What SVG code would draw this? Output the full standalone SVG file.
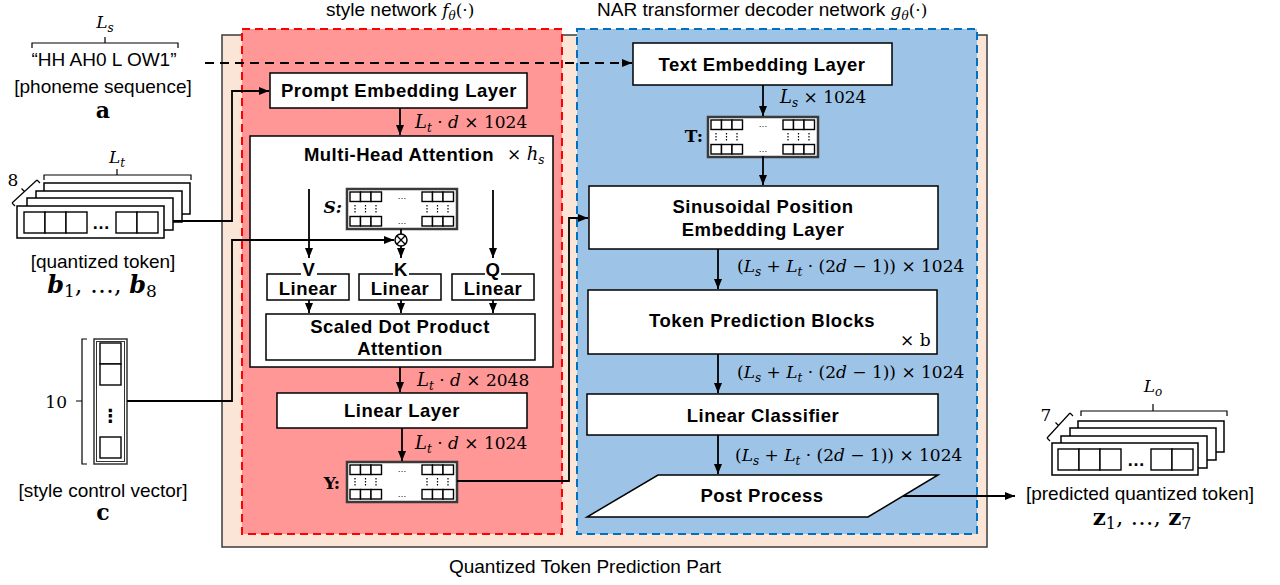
<svg xmlns="http://www.w3.org/2000/svg" width="1280" height="585" viewBox="0 0 1280 585">
<defs>
<style>
.lbl{font-family:"Liberation Sans",Arial,sans-serif;font-weight:bold;font-size:18.5px;letter-spacing:0.5px;text-anchor:middle;fill:#000}
.txt{font-family:"Liberation Sans",Arial,sans-serif;font-size:19px;text-anchor:middle;fill:#000}
.math{font-family:"DejaVu Serif","Liberation Serif",serif;font-size:17px;fill:#000}
.it{font-style:italic}
.sub{font-size:12px;font-style:italic}
.box{fill:#fff;stroke:#000;stroke-width:1.5}
.cell{fill:#fff;stroke:#000;stroke-width:1.4}
.cn{fill:none;stroke:#000;stroke-width:1.8}
.brk{fill:none;stroke:#000;stroke-width:1.2}
</style>
<marker id="ah" markerUnits="userSpaceOnUse" markerWidth="10" markerHeight="10" viewBox="0 0 10 10" refX="10" refY="5" orient="auto"><path d="M0,1 L10,5 L0,9 z" fill="#000"/></marker>
<g id="mat">
<rect x="0" y="0" width="110" height="40" fill="#fff" stroke="#3a3a3a" stroke-width="2.5"/>
<g class="cell">
<rect x="3" y="3" width="10.5" height="9.5"/><rect x="13.5" y="3" width="10.5" height="9.5"/><rect x="24" y="3" width="10.5" height="9.5"/>
<rect x="75" y="3" width="10.5" height="9.5"/><rect x="85.5" y="3" width="10.5" height="9.5"/><rect x="96" y="3" width="10.5" height="9.5"/>
<rect x="3" y="27.5" width="10.5" height="9.5"/><rect x="13.5" y="27.5" width="10.5" height="9.5"/><rect x="24" y="27.5" width="10.5" height="9.5"/>
<rect x="75" y="27.5" width="10.5" height="9.5"/><rect x="85.5" y="27.5" width="10.5" height="9.5"/><rect x="96" y="27.5" width="10.5" height="9.5"/>
</g>
<g stroke="#000" stroke-width="1.2" stroke-dasharray="1.5 1.5">
<line x1="8" y1="16" x2="8" y2="25"/><line x1="18.5" y1="16" x2="18.5" y2="25"/><line x1="29" y1="16" x2="29" y2="25"/>
<line x1="80" y1="16" x2="80" y2="25"/><line x1="90.5" y1="16" x2="90.5" y2="25"/><line x1="101" y1="16" x2="101" y2="25"/>
</g>
<text x="55" y="10" font-family="Liberation Sans,sans-serif" font-size="9" text-anchor="middle">…</text>
<text x="55" y="35" font-family="Liberation Sans,sans-serif" font-size="9" text-anchor="middle">…</text>
</g>
</defs>

<rect width="1280" height="585" fill="#fff"/>

<!-- regions -->
<g id="regions">
<rect x="222" y="35" width="765" height="512" fill="#FBE5D6" stroke="#3b3b3b" stroke-width="1.5"/>
<rect x="242" y="29" width="320" height="505" fill="#FF9797" stroke="#FF0000" stroke-width="2" stroke-dasharray="8 5"/>
<rect x="577" y="29" width="400" height="505" fill="#9DC3E6" stroke="#0070C0" stroke-width="2" stroke-dasharray="8 5"/>
<text class="txt" x="326" y="16" style="text-anchor:start">style network <tspan font-family="DejaVu Serif,serif" font-style="italic" font-size="17">f</tspan><tspan font-family="DejaVu Serif,serif" font-style="italic" font-size="12" dy="4">θ</tspan><tspan font-family="DejaVu Serif,serif" font-size="17" dy="-4">(·)</tspan></text>
<text class="txt" x="597" y="16" style="text-anchor:start">NAR transformer decoder network <tspan font-family="DejaVu Serif,serif" font-style="italic" font-size="17">g</tspan><tspan font-family="DejaVu Serif,serif" font-style="italic" font-size="12" dy="4">θ</tspan><tspan font-family="DejaVu Serif,serif" font-size="17" dy="-4">(·)</tspan></text>
<text class="txt" x="585" y="573">Quantized Token Prediction Part</text>
</g>

<!-- input a -->
<g id="input-a">
<text class="math it" x="105" y="28" text-anchor="middle" font-size="19">L<tspan class="sub" dy="4">s</tspan></text>
<path class="brk" d="M32,48 V43 H178 V48 M105,43 V37"/>
<text class="txt" x="104" y="66">“HH AH0 L OW1”</text>
<text class="txt" x="103" y="93">[phoneme sequence]</text>
<text x="103" y="118" text-anchor="middle" font-family="DejaVu Serif,serif" font-weight="bold" font-size="22">a</text>
</g>

<!-- input b -->
<g id="input-b">
<text class="math it" x="117" y="163" text-anchor="middle" font-size="19">L<tspan class="sub" dy="4">t</tspan></text>
<path class="brk" d="M44,180 V175 H191 V180 M117,175 V169"/>
<text class="math" x="13" y="186" text-anchor="middle" font-size="18">8</text>
<path class="brk" d="M12,203 L37,180 M12,203 L15,206 M37,180 L40,183 M24.5,191.5 L21.5,188.5"/>
<rect class="box" x="44" y="183" width="146" height="31"/>
<rect class="box" x="36" y="191" width="146" height="31"/>
<rect class="box" x="27" y="198" width="146" height="32"/>
<rect class="box" x="17" y="206" width="147" height="32"/>
<g class="cell"><rect x="24" y="212" width="21" height="21"/><rect x="45" y="212" width="21" height="21"/><rect x="66" y="212" width="21" height="21"/><rect x="116" y="212" width="21" height="21"/><rect x="137" y="212" width="21" height="21"/></g>
<text x="101" y="229" text-anchor="middle" font-family="Liberation Sans,sans-serif" font-weight="bold" font-size="18">…</text>
<text class="txt" x="103" y="268">[quantized token]</text>
<text x="102" y="293" text-anchor="middle" font-family="DejaVu Serif,serif" font-size="24"><tspan font-weight="bold" font-style="italic">b</tspan><tspan font-size="17" dy="4">1</tspan><tspan dy="-4">, …, </tspan><tspan font-weight="bold" font-style="italic">b</tspan><tspan font-size="17" dy="4">8</tspan></text>
</g>

<!-- input c -->
<g id="input-c">
<path class="brk" d="M87,339 H82 V464 H87 M82,401 H76"/>
<text class="math" x="67" y="408" text-anchor="end" font-size="18">10</text>
<rect x="94" y="339" width="33" height="125" fill="#fff" stroke="#333" stroke-width="1.5"/>
<rect x="96.5" y="341.5" width="28" height="120" fill="none" stroke="#333" stroke-width="1"/>
<g class="cell"><rect x="100" y="343" width="21" height="21"/><rect x="100" y="364" width="21" height="21"/><rect x="100" y="437" width="21" height="21"/></g>
<text x="110.5" y="422" text-anchor="middle" font-family="DejaVu Sans,sans-serif" font-weight="bold" font-size="18">⋮</text>
<text class="txt" x="103" y="497">[style control vector]</text>
<text x="103" y="520" text-anchor="middle" font-family="DejaVu Serif,serif" font-weight="bold" font-size="22">c</text>
</g>

<!-- style network nodes -->
<g id="prompt-embedding">
<rect class="box" x="270" y="73" width="257" height="35"/>
<text class="lbl" x="399" y="97">Prompt Embedding Layer</text>
</g>

<g id="multi-head-attention">
<rect class="box" x="250" y="136" width="303" height="231"/>
<text class="lbl" x="399" y="161">Multi-Head Attention</text>
<text class="math" x="507" y="160">× <tspan class="it" font-size="18">h</tspan><tspan class="sub" dy="4">s</tspan></text>
</g>

<g id="S-matrix">
<use href="#mat" x="347" y="189"/>
<text x="342" y="213" text-anchor="end" font-family="DejaVu Serif,serif" font-weight="bold" font-style="italic" font-size="17">S:</text>
</g>

<g id="mult">
<circle cx="401" cy="240" r="6" fill="#fff" stroke="#000" stroke-width="1.5"/>
<path d="M396.8,235.8 L405.2,244.2 M405.2,235.8 L396.8,244.2" stroke="#000" stroke-width="1.3"/>
</g>

<g id="V-linear">
<rect class="box" x="267" y="274" width="82" height="26"/>
<rect x="301" y="262" width="16" height="14" fill="#fff"/>
<text class="lbl" x="309" y="276">V</text>
<text class="lbl" x="308" y="295">Linear</text>
</g>
<g id="K-linear">
<rect class="box" x="359" y="274" width="82" height="26"/>
<rect x="393" y="262" width="16" height="14" fill="#fff"/>
<text class="lbl" x="401" y="276">K</text>
<text class="lbl" x="400" y="295">Linear</text>
</g>
<g id="Q-linear">
<rect class="box" x="452" y="274" width="82" height="26"/>
<rect x="485" y="262" width="16" height="14" fill="#fff"/>
<text class="lbl" x="493" y="276">Q</text>
<text class="lbl" x="493" y="295">Linear</text>
</g>

<g id="sdpa">
<rect class="box" x="266" y="314" width="269" height="46"/>
<text class="lbl" x="400" y="333">Scaled Dot Product</text>
<text class="lbl" x="400" y="355">Attention</text>
</g>

<g id="linear-layer">
<rect class="box" x="277" y="393" width="250" height="35"/>
<text class="lbl" x="402" y="417">Linear Layer</text>
</g>

<g id="Y-matrix">
<use href="#mat" x="347" y="462"/>
<text x="340" y="489" text-anchor="end" font-family="DejaVu Serif,serif" font-weight="bold" font-size="17">Y:</text>
</g>

<!-- NAR nodes -->
<g id="text-embedding">
<rect class="box" x="633" y="43" width="259" height="42"/>
<text class="lbl" x="762" y="71">Text Embedding Layer</text>
</g>

<g id="T-matrix">
<use href="#mat" x="708" y="117"/>
<text x="703" y="142" text-anchor="end" font-family="DejaVu Serif,serif" font-weight="bold" font-size="17">T:</text>
</g>

<g id="sinusoidal">
<rect class="box" x="589" y="186" width="349" height="63"/>
<text class="lbl" x="763" y="213">Sinusoidal Position</text>
<text class="lbl" x="763" y="236">Embedding Layer</text>
</g>

<g id="token-prediction">
<rect class="box" x="588" y="290" width="349" height="64"/>
<text class="lbl" x="762" y="327">Token Prediction Blocks</text>
<text class="math" x="900" y="346">× b</text>
</g>

<g id="linear-classifier">
<rect class="box" x="587" y="394" width="351" height="41"/>
<text class="lbl" x="763" y="422">Linear Classifier</text>
</g>

<g id="post-process">
<polygon points="658,475 938,475 868,517 587,517" fill="#fff" stroke="#000" stroke-width="1.5"/>
<text class="lbl" x="762" y="502">Post Process</text>
</g>

<!-- output -->
<g id="output-z">
<text class="math it" x="1153" y="392" text-anchor="middle" font-size="19">L<tspan class="sub" dy="4">o</tspan></text>
<path class="brk" d="M1081,416 V411 H1227 V416 M1153,411 V404"/>
<text class="math" x="1046" y="421" text-anchor="middle" font-size="18">7</text>
<path class="brk" d="M1047,438 L1070,413 M1047,438 L1050,441 M1070,413 L1073,416 M1058.5,425.5 L1055.5,422.5"/>
<rect class="box" x="1078" y="421" width="146" height="31"/>
<rect class="box" x="1070" y="428" width="146" height="32"/>
<rect class="box" x="1061" y="436" width="146" height="32"/>
<rect class="box" x="1052" y="443" width="146" height="32"/>
<g class="cell"><rect x="1058" y="449" width="21" height="21"/><rect x="1079" y="449" width="21" height="21"/><rect x="1100" y="449" width="21" height="21"/><rect x="1151" y="449" width="21" height="21"/><rect x="1172" y="449" width="21" height="21"/></g>
<text x="1136" y="466" text-anchor="middle" font-family="Liberation Sans,sans-serif" font-weight="bold" font-size="18">…</text>
<text class="txt" x="1140" y="500">[predicted quantized token]</text>
<text x="1142" y="525" text-anchor="middle" font-family="DejaVu Serif,serif" font-size="23"><tspan font-weight="bold">z</tspan><tspan font-size="16" dy="4">1</tspan><tspan dy="-4">, …, </tspan><tspan font-weight="bold">z</tspan><tspan font-size="16" dy="4">7</tspan></text>
</g>

<!-- connectors -->
<g id="connectors">
<path class="cn" d="M205,63 H632" stroke-dasharray="9 6" marker-end="url(#ah)"/>
<path class="cn" d="M173,221 H232 V91 H269" marker-end="url(#ah)"/>
<path class="cn" d="M127,401 H232 V240 H394" marker-end="url(#ah)"/>
<path class="cn" d="M400,108 V135" marker-end="url(#ah)"/>
<path class="cn" d="M401,229 V234"/>
<path class="cn" d="M401,246 V258" marker-end="url(#ah)"/>
<path class="cn" d="M309,189 V258" marker-end="url(#ah)"/>
<path class="cn" d="M493,190 V258" marker-end="url(#ah)"/>
<path class="cn" d="M309,300 V313" marker-end="url(#ah)"/>
<path class="cn" d="M401,300 V313" marker-end="url(#ah)"/>
<path class="cn" d="M493,300 V313" marker-end="url(#ah)"/>
<path class="cn" d="M400,367 V392" marker-end="url(#ah)"/>
<path class="cn" d="M402,428 V461" marker-end="url(#ah)"/>
<path class="cn" d="M457,481 H569 V218 H588" marker-end="url(#ah)"/>
<path class="cn" d="M763,85 V116" marker-end="url(#ah)"/>
<path class="cn" d="M763,156 V185" marker-end="url(#ah)"/>
<path class="cn" d="M718,249 V289" marker-end="url(#ah)"/>
<path class="cn" d="M718,354 V393" marker-end="url(#ah)"/>
<path class="cn" d="M718,435 V474" marker-end="url(#ah)"/>
<path class="cn" d="M903,496 H1015" marker-end="url(#ah)"/>
</g>

<!-- connector labels -->
<g id="edge-labels">
<text class="math" x="415" y="128"><tspan class="it" font-size="18">L</tspan><tspan class="sub" dy="4">t</tspan><tspan dy="-4"> · </tspan><tspan class="it">d</tspan> × 1024</text>
<text class="math" x="417" y="386"><tspan class="it" font-size="18">L</tspan><tspan class="sub" dy="4">t</tspan><tspan dy="-4"> · </tspan><tspan class="it">d</tspan> × 2048</text>
<text class="math" x="415" y="449"><tspan class="it" font-size="18">L</tspan><tspan class="sub" dy="4">t</tspan><tspan dy="-4"> · </tspan><tspan class="it">d</tspan> × 1024</text>
<text class="math" x="780" y="103"><tspan class="it" font-size="18">L</tspan><tspan class="sub" dy="4">s</tspan><tspan dy="-4"> × 1024</tspan></text>
<text class="math" x="737" y="272">(<tspan class="it">L</tspan><tspan class="sub" dy="4">s</tspan><tspan dy="-4"> + </tspan><tspan class="it">L</tspan><tspan class="sub" dy="4">t</tspan><tspan dy="-4"> · (2</tspan><tspan class="it">d</tspan> − 1)) × 1024</text>
<text class="math" x="737" y="378">(<tspan class="it">L</tspan><tspan class="sub" dy="4">s</tspan><tspan dy="-4"> + </tspan><tspan class="it">L</tspan><tspan class="sub" dy="4">t</tspan><tspan dy="-4"> · (2</tspan><tspan class="it">d</tspan> − 1)) × 1024</text>
<text class="math" x="735" y="461">(<tspan class="it">L</tspan><tspan class="sub" dy="4">s</tspan><tspan dy="-4"> + </tspan><tspan class="it">L</tspan><tspan class="sub" dy="4">t</tspan><tspan dy="-4"> · (2</tspan><tspan class="it">d</tspan> − 1)) × 1024</text>
</g>
</svg>
